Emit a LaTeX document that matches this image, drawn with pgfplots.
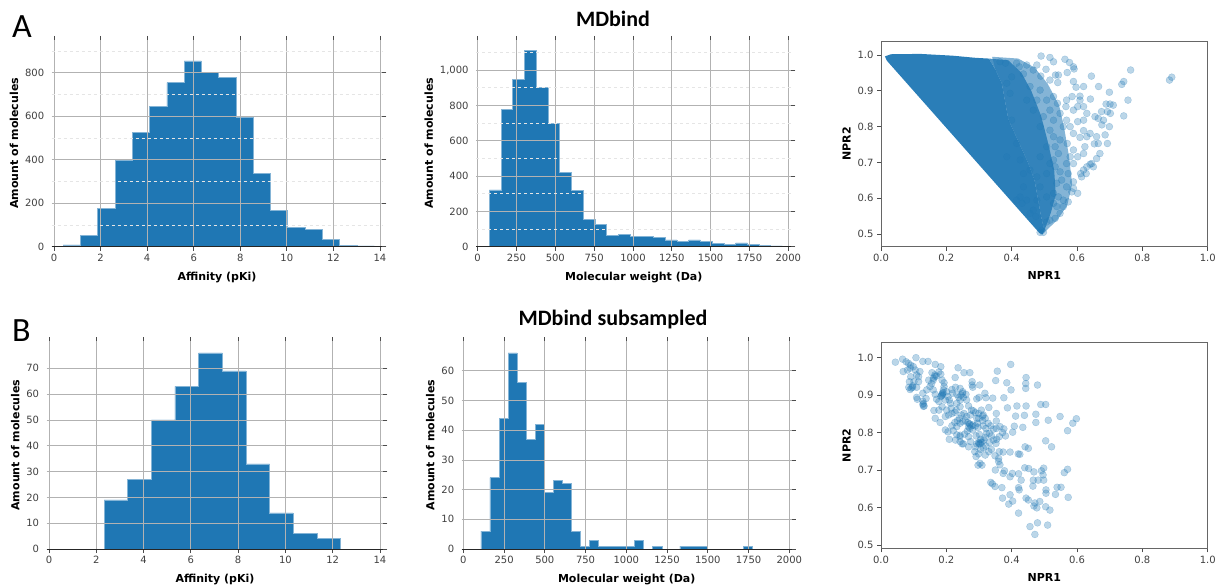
\documentclass[border=0pt]{standalone}
\usepackage{pgfplots}
\pgfplotsset{compat=1.18}
\usepackage{fontspec}
\setmainfont{DejaVu Sans}
\newfontfamily\carlito{Carlito}
\definecolor{c0}{HTML}{1F77B4}

\pgfplotsset{
  hist/.style={
    scale only axis, axis on top, anchor=south west,
    axis line style={draw=none},
    tick align=outside, major tick length=4pt, minor tick length=0pt,
    xtick pos=both, ytick pos=right, yticklabel pos=left,
    tick style={black!70, line width=0.7pt},
    xmajorgrids, ymajorgrids,
    major grid style={black!30, line width=0.7pt},
    minor grid style={black!10, dashed, line width=0.7pt},
    tick label style={font=\fontsize{10}{11}\selectfont, text=black!75},
    /pgf/number format/assume math mode=true,
    label style={font=\bfseries\fontsize{11}{13}\selectfont},
    xlabel style={yshift=-3pt},
    ylabel={Amount of molecules},
    ymin=0,
    after end axis/.code={\draw[black!85, line width=1pt] (rel axis cs:0,0) -- (rel axis cs:1,0);},
  },
  bars/.style={const plot, fill=c0, draw=c0!55!white, line width=0.6pt},
  sc/.style={
    scale only axis, anchor=south west,
    axis line style={black!60, line width=0.9pt},
    tick align=outside, major tick length=4pt,
    xtick pos=left, ytick pos=left,
    tick style={black!70, line width=0.7pt},
    xmin=0, xmax=1,
    xtick={0,0.2,0.4,0.6,0.8,1}, ytick={0.5,0.6,0.7,0.8,0.9,1},
    tick label style={font=\fontsize{10}{11}\selectfont, text=black!75},
    /pgf/number format/assume math mode=true,
    xticklabel style={/pgf/number format/.cd, fixed, fixed zerofill, precision=1},
    yticklabel style={/pgf/number format/.cd, fixed, fixed zerofill, precision=1},
    label style={font=\bfseries\fontsize{11}{13}\selectfont},
    xlabel style={yshift=-3pt},
    xlabel={NPR1}, ylabel={NPR2},
  },
  pts/.style={only marks, mark=*, mark size=3.5pt,
    mark options={fill=c0, draw=c0, fill opacity=0.3, draw opacity=0.3, line width=0.4pt}},
}

\begin{document}
\begin{tikzpicture}
\path[use as bounding box] (0,0) rectangle (1216pt,584pt);

\node[anchor=base west, inner sep=0pt, font=\carlito\fontsize{34}{40}\selectfont] at (12pt,546pt) {A};
\node[anchor=base west, inner sep=0pt, font=\carlito\fontsize{34}{40}\selectfont] at (12pt,242pt) {B};
\node[anchor=base, inner sep=0pt, font=\carlito\bfseries\fontsize{22}{26}\selectfont] at (613pt,557.5pt) {MDbind};
\node[anchor=base, inner sep=0pt, font=\carlito\bfseries\fontsize{22}{26}\selectfont] at (613pt,258pt) {MDbind subsampled};

% A: affinity
\begin{axis}[hist, at={(51.7pt,337.3pt)}, width=330.6pt, height=206.7pt,
  xmin=-0.1, xmax=14.1, ymax=950,
  xtick={0,2,...,14}, ytick={0,200,...,800},
  minor ytick={100,300,...,900}, yminorgrids,
  xlabel={Affinity (pKi)}]
\addplot[bars] coordinates {
 (0.39,8) (1.13,52) (1.88,175) (2.62,397) (3.36,524) (4.10,644) (4.85,754)
 (5.59,854) (6.33,800) (7.07,777) (7.82,596) (8.56,337) (9.30,166)
 (10.04,87) (10.79,78) (11.53,35) (12.27,5) (13.02,4) (13.76,4)} \closedcycle;
\end{axis}

% A: molecular weight
\begin{axis}[hist, at={(476.1pt,337.3pt)}, width=315.3pt, height=206.7pt,
  xmin=-10, xmax=2020, ymax=1170,
  xtick={0,250,...,2000}, ytick={0,200,...,1000},
  minor ytick={100,300,...,1100}, yminorgrids,
  xticklabel style={/pgf/number format/1000 sep={}},
  xlabel={Molecular weight (Da)}]
\addplot[bars] coordinates {
 (75,321) (150.5,779) (226,949) (301.5,1109) (377,902) (452.5,698) (528,421)
 (603.5,319) (679,153) (754.5,126) (830,64) (905.5,68) (981,58) (1056.5,57)
 (1132,51) (1207.5,38) (1283,30) (1358.5,38) (1434,30) (1509.5,17) (1585,13)
 (1660.5,21) (1736,13) (1811.5,8) (1887,4) (1962.5,4)} \closedcycle;
\end{axis}

% A: NPR scatter
\begin{axis}[sc, at={(881pt,337.3pt)}, width=326.7pt, height=205.7pt,
  ymin=0.465, ymax=1.039]
\addplot[fill=c0, fill opacity=0.55, draw=none] coordinates {
 (0.34,0.995) (0.42,0.99) (0.47,0.965) (0.51,0.92) (0.545,0.86) (0.56,0.80)
 (0.575,0.72) (0.585,0.64) (0.57,0.58) (0.54,0.54) (0.50,0.505)
 (0.49,0.55) (0.48,0.60) (0.47,0.65) (0.45,0.70) (0.43,0.74) (0.41,0.78)
 (0.39,0.82) (0.38,0.87) (0.37,0.92) (0.35,0.96)};
\addplot[fill=c0, fill opacity=0.8, draw=none] coordinates {
 (0.33,0.99) (0.39,0.985) (0.43,0.95) (0.46,0.90) (0.49,0.83) (0.51,0.76)
 (0.53,0.68) (0.535,0.61) (0.52,0.56) (0.50,0.51)
 (0.49,0.55) (0.48,0.60) (0.47,0.65) (0.45,0.70) (0.43,0.74) (0.41,0.78)
 (0.39,0.82) (0.38,0.87) (0.37,0.92) (0.35,0.96)};
\addplot[fill=c0, fill opacity=0.95, draw=none] coordinates {
 (0.012,0.996) (0.03,1.002) (0.12,1.003) (0.22,0.998) (0.29,0.992) (0.33,0.99)
 (0.35,0.96) (0.37,0.92) (0.38,0.87) (0.39,0.82) (0.41,0.78) (0.43,0.74)
 (0.45,0.70) (0.47,0.65) (0.48,0.60) (0.49,0.55) (0.50,0.51) (0.495,0.500)
 (0.485,0.503) (0.018,0.984)};
\addplot[pts] coordinates {
 (0.490,0.997) (0.517,0.993) (0.528,0.981) (0.563,0.988) (0.577,0.979) (0.589,0.967)
 (0.591,0.961) (0.570,0.951) (0.543,0.944) (0.534,0.944) (0.505,0.960) (0.477,0.972)
 (0.466,0.958) (0.446,0.972) (0.436,0.947) (0.423,0.967) (0.415,0.977) (0.489,0.941)
 (0.517,0.930) (0.541,0.923) (0.589,0.926) (0.597,0.910) (0.620,0.912) (0.641,0.877)
 (0.644,0.941) (0.666,0.912) (0.701,0.863) (0.711,0.860) (0.693,0.842) (0.702,0.837)
 (0.689,0.863) (0.743,0.926) (0.737,0.918) (0.764,0.958) (0.756,0.874) (0.743,0.830)
 (0.883,0.930) (0.890,0.938) (0.699,0.800) (0.681,0.818) (0.665,0.823) (0.655,0.828)
 (0.675,0.842) (0.660,0.772) (0.665,0.753) (0.693,0.753) (0.686,0.777) (0.670,0.725)
 (0.660,0.711) (0.645,0.697) (0.630,0.688) (0.620,0.679) (0.614,0.660) (0.628,0.669)
 (0.640,0.695) (0.650,0.688) (0.611,0.669) (0.624,0.744) (0.620,0.725) (0.609,0.770)
 (0.630,0.772) (0.640,0.781) (0.620,0.789) (0.589,0.781) (0.602,0.814) (0.620,0.818)
 (0.630,0.837) (0.620,0.856) (0.602,0.856) (0.589,0.846) (0.609,0.874) (0.609,0.885)
 (0.585,0.884) (0.568,0.874) (0.566,0.856) (0.548,0.837) (0.540,0.865) (0.568,0.818)
 (0.579,0.800) (0.558,0.800) (0.570,0.753) (0.589,0.735) (0.602,0.716) (0.579,0.716)
 (0.568,0.697) (0.589,0.697) (0.573,0.669) (0.589,0.646) (0.602,0.614) (0.584,0.618)
 (0.568,0.632) (0.589,0.628) (0.558,0.595) (0.573,0.590) (0.548,0.558) (0.533,0.544)
 (0.517,0.539) (0.507,0.534) (0.538,0.577) (0.558,0.577) (0.528,0.586) (0.543,0.604)
 (0.528,0.614) (0.538,0.642) (0.553,0.651) (0.548,0.674) (0.533,0.688) (0.528,0.707)
 (0.543,0.725) (0.533,0.744) (0.548,0.763) (0.528,0.772) (0.517,0.790) (0.528,0.818)
 (0.517,0.846) (0.507,0.874) (0.528,0.884) (0.487,0.902) (0.477,0.874) (0.466,0.846)
 (0.456,0.912) (0.446,0.874) (0.497,0.828) (0.487,0.800) (0.507,0.744) (0.487,0.716)
 (0.517,0.697) (0.507,0.669) (0.487,0.632) (0.507,0.604) (0.477,0.595) (0.466,0.567)
 (0.446,0.595) (0.426,0.604) (0.436,0.632) (0.477,0.660) (0.456,0.679) (0.492,0.511)
 (0.487,0.505) (0.497,0.505) (0.395,0.893) (0.385,0.921) (0.400,0.939) (0.381,0.977)
 (0.364,0.981) (0.400,0.818) (0.415,0.753) (0.385,0.716) (0.426,0.707) (0.436,0.669)
 (0.415,0.595) (0.432,0.586) (0.456,0.558) (0.474,0.549) (0.699,0.896) (0.676,0.805)
 (0.653,0.752)};
\end{axis}

% B: affinity
\begin{axis}[hist, at={(46.6pt,35pt)}, width=336.7pt, height=207.8pt,
  xmin=-0.1, xmax=14.14, ymax=80.5,
  xtick={0,2,...,14}, ytick={0,10,...,70},
  xlabel={Affinity (pKi)}]
\addplot[bars] coordinates {
 (2.33,19) (3.33,27) (4.33,50) (5.33,63) (6.33,76) (7.33,69) (8.33,33)
 (9.33,14) (10.33,6) (11.33,4) (12.33,4)} \closedcycle;
\end{axis}

% B: molecular weight
\begin{axis}[hist, at={(461.7pt,35pt)}, width=330pt, height=208pt,
  xmin=-10, xmax=2015, ymax=70,
  xtick={0,250,...,2000}, ytick={0,10,...,60},
  xticklabel style={/pgf/number format/1000 sep={}},
  xlabel={Molecular weight (Da)}]
\addplot[bars] coordinates {
 (108,6) (163.5,24) (219,44) (274.5,66) (330,56) (385.5,37) (441,42) (496.5,19)
 (552,23) (607.5,22) (663,6) (718.5,1) (774,3) (829.5,1) (885,1) (940.5,1)
 (996,1) (1051.5,3) (1107,0) (1162.5,1) (1218,0) (1273.5,0) (1329,1) (1384.5,1)
 (1440,1) (1495.5,0) (1551,0) (1606.5,0) (1662,0) (1717.5,1) (1773,1)} \closedcycle;
\end{axis}

% B: NPR scatter
\begin{axis}[sc, at={(881pt,35.7pt)}, width=326.7pt, height=205.6pt,
  ymin=0.491, ymax=1.040]
\addplot[pts] coordinates {
 (0.044,0.988) (0.066,0.996) (0.068,0.963) (0.107,1.0) (0.128,0.99) (0.144,0.99)
 (0.166,0.982) (0.183,0.976) (0.236,0.973) (0.254,0.96) (0.272,0.96) (0.356,0.964)
 (0.397,0.982) (0.444,0.947) (0.443,0.931) (0.443,0.918) (0.479,0.927) (0.385,0.933)
 (0.351,0.939) (0.398,0.914) (0.227,0.947) (0.279,0.936) (0.279,0.927) (0.281,0.921)
 (0.302,0.927) (0.318,0.905) (0.342,0.892) (0.376,0.893) (0.387,0.866) (0.416,0.871)
 (0.444,0.871) (0.489,0.875) (0.504,0.875) (0.512,0.833) (0.548,0.843) (0.598,0.837)
 (0.587,0.825) (0.571,0.805) (0.474,0.849) (0.474,0.827) (0.439,0.846) (0.412,0.844)
 (0.434,0.814) (0.408,0.817) (0.376,0.810) (0.381,0.791) (0.403,0.801) (0.353,0.811)
 (0.353,0.831) (0.353,0.851) (0.330,0.867) (0.321,0.893) (0.300,0.894) (0.293,0.890)
 (0.504,0.778) (0.522,0.762) (0.441,0.762) (0.451,0.758) (0.420,0.743) (0.425,0.742)
 (0.395,0.748) (0.374,0.748) (0.362,0.749) (0.349,0.738) (0.360,0.731) (0.360,0.723)
 (0.364,0.714) (0.374,0.691) (0.350,0.700) (0.378,0.698) (0.395,0.682) (0.402,0.691)
 (0.421,0.690) (0.429,0.673) (0.440,0.706) (0.452,0.704) (0.468,0.695) (0.491,0.698)
 (0.498,0.705) (0.496,0.687) (0.498,0.673) (0.466,0.673) (0.481,0.673)
 (0.336,0.667) (0.341,0.663) (0.349,0.656) (0.370,0.653) (0.372,0.625) (0.395,0.634)
 (0.403,0.617) (0.391,0.609) (0.421,0.585) (0.423,0.647) (0.421,0.653) (0.465,0.657)
 (0.444,0.625) (0.451,0.620) (0.471,0.612) (0.486,0.616) (0.468,0.604) (0.477,0.599)
 (0.504,0.602) (0.517,0.593) (0.456,0.549) (0.479,0.559) (0.510,0.553) (0.471,0.528)
 (0.505,0.647) (0.505,0.638) (0.534,0.635) (0.539,0.654) (0.551,0.654) (0.561,0.693)
 (0.571,0.702) (0.573,0.627)
 (0.077,0.989) (0.084,0.985) (0.091,0.980) (0.089,0.972) (0.099,0.976) (0.105,0.967)
 (0.081,0.967) (0.109,0.954) (0.119,0.963) (0.115,0.949) (0.091,0.949) (0.087,0.936)
 (0.101,0.936) (0.115,0.936) (0.085,0.921) (0.097,0.921) (0.089,0.915) (0.109,0.921)
 (0.109,0.894) (0.111,0.889) (0.128,0.905) (0.128,0.884) (0.130,0.878) (0.132,0.871)
 (0.138,0.891) (0.140,0.914) (0.150,0.923) (0.155,0.931) (0.146,0.940) (0.160,0.940)
 (0.165,0.954) (0.156,0.960) (0.177,0.962) (0.170,0.951) (0.183,0.956) (0.187,0.940)
 (0.193,0.933) (0.160,0.914) (0.166,0.902) (0.170,0.889) (0.177,0.883) (0.183,0.896)
 (0.187,0.903) (0.191,0.914) (0.193,0.923) (0.189,0.907) (0.201,0.909) (0.205,0.896)
 (0.197,0.887) (0.209,0.887) (0.213,0.878) (0.215,0.865) (0.201,0.860) (0.187,0.869)
 (0.177,0.860) (0.162,0.859) (0.166,0.838) (0.181,0.827) (0.197,0.843) (0.207,0.847)
 (0.217,0.851) (0.226,0.854) (0.230,0.860) (0.242,0.869) (0.232,0.878) (0.242,0.887)
 (0.252,0.894) (0.260,0.902) (0.250,0.909) (0.242,0.918) (0.228,0.921) (0.217,0.915)
 (0.219,0.905) (0.232,0.902) (0.238,0.894) (0.262,0.887) (0.268,0.871) (0.277,0.860)
 (0.283,0.858) (0.289,0.853) (0.299,0.851) (0.307,0.860) (0.313,0.847) (0.274,0.847)
 (0.262,0.843) (0.254,0.851) (0.246,0.847) (0.240,0.838) (0.234,0.832) (0.226,0.827)
 (0.217,0.818) (0.197,0.807) (0.205,0.802) (0.221,0.805) (0.232,0.816) (0.242,0.825)
 (0.250,0.829) (0.258,0.832) (0.266,0.827) (0.272,0.823) (0.281,0.820) (0.289,0.818)
 (0.295,0.825) (0.297,0.814) (0.281,0.807) (0.272,0.811) (0.264,0.804) (0.256,0.796)
 (0.242,0.793) (0.228,0.780) (0.242,0.776) (0.248,0.770) (0.232,0.794) (0.268,0.789)
 (0.291,0.791) (0.301,0.795) (0.305,0.782) (0.299,0.773) (0.293,0.770) (0.303,0.770)
 (0.309,0.774) (0.315,0.780) (0.319,0.787) (0.323,0.798) (0.332,0.798) (0.321,0.811)
 (0.313,0.818) (0.311,0.832) (0.299,0.838) (0.311,0.844) (0.293,0.838) (0.328,0.825)
 (0.336,0.818) (0.344,0.809) (0.338,0.791) (0.344,0.780) (0.332,0.773) (0.321,0.764)
 (0.313,0.759) (0.305,0.755) (0.299,0.743) (0.291,0.736) (0.297,0.713) (0.309,0.713)
 (0.303,0.718) (0.319,0.740) (0.330,0.749) (0.338,0.755) (0.352,0.771) (0.354,0.782)
 (0.362,0.789) (0.372,0.800) (0.364,0.816) (0.319,0.838) (0.252,0.770) (0.242,0.789)
 (0.209,0.782) (0.268,0.762) (0.274,0.776) (0.289,0.762) (0.287,0.749)
 (0.187,0.900) (0.190,0.905) (0.185,0.898) (0.093,0.919) (0.097,0.925) (0.270,0.823)
 (0.276,0.818) (0.268,0.815) (0.300,0.770) (0.305,0.775) (0.128,0.875) (0.130,0.870)
 (0.165,0.950) (0.160,0.945) (0.250,0.905) (0.245,0.900)};
\end{axis}
\end{tikzpicture}
\end{document}
